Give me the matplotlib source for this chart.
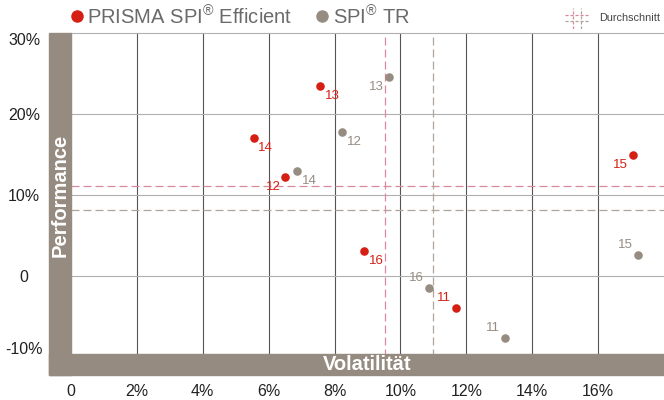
import numpy as np
import matplotlib
matplotlib.use("Agg")
import matplotlib.pyplot as plt
from matplotlib.patches import Rectangle
from matplotlib.lines import Line2D

plt.rcParams['font.family'] = ['Liberation Sans', 'DejaVu Sans']
plt.rcParams['mathtext.fontset'] = 'custom'
plt.rcParams['mathtext.rm'] = 'Liberation Sans'

# data (volatility %, performance %) per year
years = ['11', '12', '13', '14', '15', '16']
prisma_vol = [11.68, 6.51, 7.56, 5.54, 17.05, 8.89]
prisma_perf = [-3.91, 12.26, 23.46, 17.07, 14.94, 3.12]
spi_vol = [13.18, 8.22, 9.64, 6.85, 17.20, 10.86]
spi_perf = [-7.65, 17.78, 24.53, 13.00, 2.63, -1.44]

x_ticks = [0, 2, 4, 6, 8, 10, 12, 14, 16]
x_labels = ['0', '2%', '4%', '6%', '8%', '10%', '12%', '14%', '16%']
y_ticks = [30, 20, 10, 0, -10]
y_labels = ['30%', '20%', '10%', '0', '-10%']

# label placement (direction of year label relative to the dot)
prisma_dx = [-1, -1, 1, 1, -1, 1]
prisma_dy = [1, -1, -1, -1, -1, -1]
spi_dx = [-1, 1, -1, 1, -1, -1]
spi_dy = [1, -1, -1, -1, 1, 1]

RED = '#d51f14'
GRAY = '#978c82'
BAND = '#968b80'
PINK_AVG = '#d98a9c'
GRAY_AVG = '#b0a59b'

W, H = 664, 400
fig = plt.figure(figsize=(W / 100, H / 100), dpi=100)

def px(x0, y0, x1, y1):
    return [x0 / W, 1 - y1 / H, (x1 - x0) / W, (y1 - y0) / H]

ax = fig.add_axes(px(71, 33, 664, 357))
ax.set_xlim(0, 18)
ax.set_ylim(-10, 30)
for s in ax.spines.values():
    s.set_visible(False)

ax.set_xticks(x_ticks, x_labels, va='center', fontsize=11.5, color='#222222')
ax.set_yticks(y_ticks, y_labels, ha='center', fontsize=11.5, color='#222222')
ax.tick_params(axis='x', length=0, pad=24.5)
ax.tick_params(axis='y', length=0, pad=33.8)
ylbls = ax.get_yticklabels()
ylbls[0].set_va('top')
ylbls[-1].set_va('bottom')

for xv in x_ticks[1:]:
    ax.axvline(xv, color='#555555', lw=0.8, zorder=1)
for yv in y_ticks[:-1]:
    ax.axhline(yv, color='#b0b0b0', lw=0.8, zorder=1, clip_on=False)

# averages
ax.axvline(np.mean(prisma_vol), color=PINK_AVG, lw=0.9, dashes=(6.4, 3.2), zorder=2)
ax.axhline(np.mean(prisma_perf), color=PINK_AVG, lw=0.9, dashes=(6.4, 3.2), zorder=2)
ax.axvline(np.mean(spi_vol), color=GRAY_AVG, lw=0.9, dashes=(6.4, 3.2), zorder=2)
ax.axhline(np.mean(spi_perf), color=GRAY_AVG, lw=0.9, dashes=(6.4, 3.2), zorder=2)

ax.scatter(prisma_vol, prisma_perf, s=38, color=RED, zorder=4, linewidths=0)
ax.scatter(spi_vol, spi_perf, s=38, color=GRAY, zorder=4, linewidths=0)

for i, yr in enumerate(years):
    ax.annotate(yr, (prisma_vol[i], prisma_perf[i]),
                xytext=(prisma_dx[i] * 8.8, prisma_dy[i] * 7.3), textcoords='offset points',
                ha='center', va='center', fontsize=9.5, color=RED, zorder=5)
    ax.annotate(yr, (spi_vol[i], spi_perf[i]),
                xytext=(spi_dx[i] * 8.8, spi_dy[i] * 7.3), textcoords='offset points',
                ha='center', va='center', fontsize=9.5, color=GRAY, zorder=5)

# brown axis bands
fig.add_artist(Rectangle((49 / W, 1 - 375 / H), 22 / W, 342 / H,
                         transform=fig.transFigure, color=BAND, zorder=10))
fig.add_artist(Rectangle((49 / W, 1 - 375 / H), (W - 49) / W, 21 / H,
                         transform=fig.transFigure, color=BAND, zorder=10))
fig.text(60 / W, 1 - 195 / H, 'Performance', rotation=90, ha='center', va='center',
         color='white', fontsize=14.5, fontweight='bold', zorder=11)
fig.text(367 / W, 1 - 365 / H, 'Volatilität', ha='center', va='center',
         color='white', fontsize=14.5, fontweight='bold', zorder=11)

# legend
fig.add_artist(Line2D([77 / W], [1 - 16 / H], marker='o', markersize=9, color=RED,
                      markeredgewidth=0, transform=fig.transFigure))
fig.text(87 / W, 1 - 17 / H, r'PRISMA SPI$^{®}$ Efficient', ha='left', va='center',
         fontsize=14.5, color='#6a6a6a')
fig.add_artist(Line2D([322 / W], [1 - 16 / H], marker='o', markersize=9, color=GRAY,
                      markeredgewidth=0, transform=fig.transFigure))
fig.text(333 / W, 1 - 17 / H, r'SPI$^{®}$ TR', ha='left', va='center',
         fontsize=14.5, color='#6a6a6a')

icon = fig.add_axes(px(565, 8, 589, 29))
icon.set_xlim(0, 1)
icon.set_ylim(0, 1)
icon.axis('off')
icon.axvline(0.35, color=PINK_AVG, lw=0.9, dashes=(2.5, 1.5))
icon.axhline(0.65, color=PINK_AVG, lw=0.9, dashes=(2.5, 1.5))
icon.axvline(0.65, color=GRAY_AVG, lw=0.9, dashes=(2.5, 1.5))
icon.axhline(0.4, color=GRAY_AVG, lw=0.9, dashes=(2.5, 1.5))
fig.text(599 / W, 1 - 18 / H, 'Durchschnitt', ha='left', va='center',
         fontsize=7.8, color='#444444')

fig.savefig('out.png', dpi=100)
